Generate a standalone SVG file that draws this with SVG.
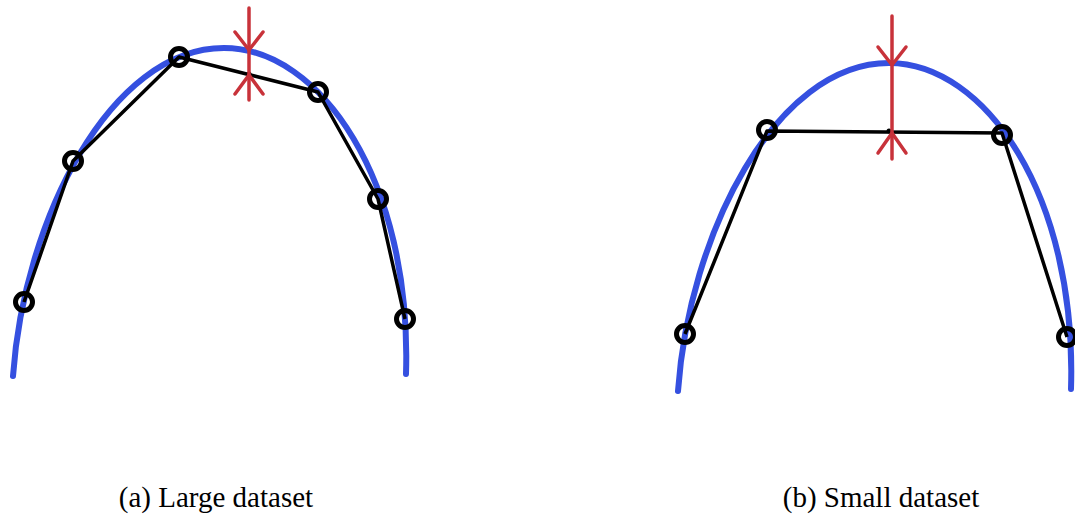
<svg xmlns="http://www.w3.org/2000/svg" xmlns:xlink="http://www.w3.org/1999/xlink" width="1075" height="520" viewBox="0 0 1075 520">
  <style>
    .curve { fill: none; stroke: #3550e0; stroke-width: 6; stroke-linecap: round; }
    .chord { fill: none; stroke: #000; stroke-width: 3.5; stroke-linejoin: round; }
    .sample { fill: none; stroke: #000; stroke-width: 5; }
    .gap { fill: none; stroke: #c8323a; stroke-width: 3.5; stroke-linecap: round; stroke-linejoin: miter; }
    .dot { fill: #000; }
    .caption { font-family: "Liberation Serif", "Times New Roman", serif; font-size: 29px; fill: #000; text-anchor: middle; }
  </style>
  <defs>
    <!-- true function: asymmetric hump, peak at (224,48) -->
    <path id="hump" d="M13,376 C24,220 110,48 224,48 C320,48 412,180 406,374"/>
  </defs>

  <!-- (a) many samples -->
  <g id="panel-a">
    <use xlink:href="#hump" class="curve"/>
    <g id="edges-a">
      <polyline class="chord" points="24,302 73,161 179,57 318,92 378,199 405,319"/>
    </g>
    <g id="samples-a">
      <circle class="sample" cx="24" cy="302" r="8.5"/>
      <circle class="sample" cx="73" cy="161" r="8.5"/>
      <circle class="sample" cx="179" cy="57" r="8.5"/>
      <circle class="sample" cx="318" cy="92" r="8.5"/>
      <circle class="sample" cx="378" cy="199" r="8.5"/>
      <circle class="sample" cx="405" cy="319" r="8.5"/>
    </g>
    <g id="error-a">
      <circle class="dot" cx="249" cy="74" r="2.5"/>
      <line class="gap" x1="249" y1="8" x2="249" y2="100"/>
      <polyline class="gap" points="235,32 249,50 263,32"/>
      <polyline class="gap" points="235,94 249,75 263,94"/>
    </g>
    <text class="caption" x="216" y="507">(a) Large dataset</text>
  </g>

  <!-- (b) few samples -->
  <g id="panel-b">
    <use xlink:href="#hump" class="curve" transform="translate(665,15)"/>
    <g id="edges-b">
      <polyline class="chord" points="685,334 767,131 1002,133 1067,337"/>
    </g>
    <g id="samples-b">
      <circle class="sample" cx="685" cy="334" r="8.5"/>
      <circle class="sample" cx="767" cy="130" r="8.5"/>
      <circle class="sample" cx="1002" cy="135" r="8.5"/>
      <circle class="sample" cx="1067" cy="337" r="8.5"/>
    </g>
    <g id="error-b">
      <circle class="dot" cx="889" cy="131" r="2.5"/>
      <line class="gap" x1="892" y1="16" x2="892" y2="159"/>
      <polyline class="gap" points="878,47 892,65 906,47"/>
      <polyline class="gap" points="878,153 892,133 906,153"/>
    </g>
    <text class="caption" x="881" y="507">(b) Small dataset</text>
  </g>
</svg>
